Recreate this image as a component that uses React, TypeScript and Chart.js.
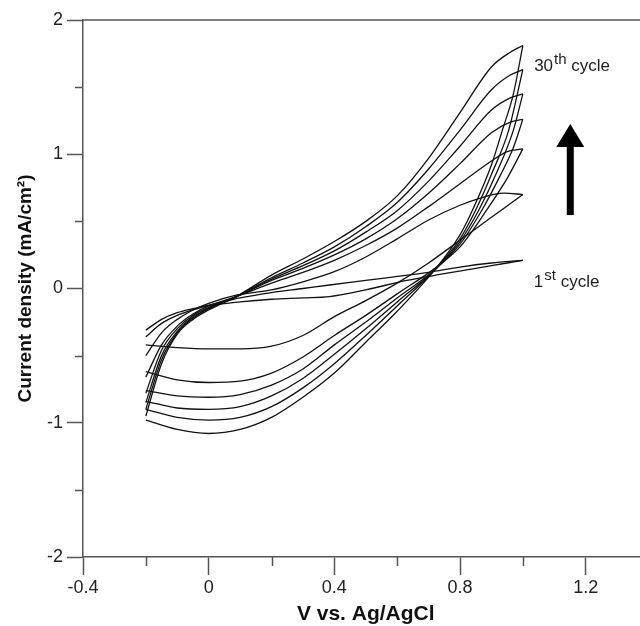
import React, { useEffect, useRef } from 'react';
import { Chart, registerables } from 'chart.js';

Chart.register(...registerables);

type P = [number, number];

// Axis setup
const X_MIN = -0.4;
const X_MAX = 1.4;
const X_STEP = 0.4;
const Y_MIN = -2;
const Y_MAX = 2;
const Y_STEP = 1;

const X_TITLE = 'V vs. Ag/AgCl';
const Y_TITLE = 'Current density (mA/cm²)';

// Cyclic voltammograms: forward (anodic) and reverse branches, [V, mA/cm²]
const loop1Fwd: P[] = [[-0.2, -0.36], [-0.15, -0.26], [-0.1, -0.2], [-0.05, -0.16], [0, -0.13], [0.1, -0.1], [0.2, -0.08], [0.3, -0.07], [0.385, -0.06], [0.5, -0.01], [0.63, 0.06], [0.75, 0.11], [0.9, 0.17], [1.0, 0.21]];
const loop1Rev: P[] = [[1.0, 0.21], [0.9, 0.19], [0.8, 0.16], [0.7, 0.12], [0.6, 0.09], [0.5, 0.06], [0.385, 0.026], [0.3, 0.0], [0.2, -0.03], [0.1, -0.07], [0.025, -0.11], [-0.05, -0.15], [-0.1, -0.18], [-0.15, -0.23], [-0.2, -0.31]];

const loop2Fwd: P[] = [[-0.2, -0.42], [-0.1, -0.44], [0, -0.45], [0.1, -0.45], [0.2, -0.43], [0.3, -0.35], [0.4, -0.21], [0.5, -0.09], [0.6, 0.04], [0.7, 0.19], [0.8, 0.36], [0.9, 0.53], [1.0, 0.7]];
const loop2Rev: P[] = [[1.0, 0.7], [0.94, 0.71], [0.86, 0.67], [0.8, 0.62], [0.7, 0.51], [0.6, 0.37], [0.5, 0.235], [0.4, 0.125], [0.3, 0.05], [0.2, -0.01], [0.088, -0.05], [0, -0.11], [-0.05, -0.16], [-0.1, -0.23], [-0.15, -0.33], [-0.2, -0.5]];

const loop3Fwd: P[] = [[-0.2, -0.62], [-0.1, -0.68], [0, -0.7], [0.1, -0.69], [0.2, -0.63], [0.3, -0.51], [0.4, -0.35], [0.5, -0.2], [0.6, -0.04], [0.72, 0.15], [0.8, 0.31], [0.885, 0.585], [0.95, 0.82], [1.0, 1.04]];
const loop3Rev: P[] = [[1.0, 1.04], [0.95, 1.02], [0.9, 0.95], [0.8, 0.78], [0.7, 0.61], [0.6, 0.45], [0.5, 0.32], [0.4, 0.21], [0.3, 0.12], [0.2, 0.04], [0.088, -0.06], [0, -0.13], [-0.05, -0.19], [-0.1, -0.28], [-0.15, -0.42], [-0.2, -0.66]];

const loop4Fwd: P[] = [[-0.2, -0.76], [-0.1, -0.8], [0, -0.81], [0.1, -0.79], [0.2, -0.72], [0.3, -0.6], [0.4, -0.42], [0.5, -0.25], [0.6, -0.07], [0.72, 0.14], [0.8, 0.33], [0.87, 0.585], [0.93, 0.85], [0.97, 1.05], [1.0, 1.26]];
const loop4Rev: P[] = [[1.0, 1.26], [0.96, 1.24], [0.9, 1.16], [0.8, 0.93], [0.7, 0.71], [0.6, 0.52], [0.5, 0.37], [0.4, 0.25], [0.3, 0.15], [0.2, 0.06], [0.088, -0.06], [0, -0.14], [-0.05, -0.2], [-0.1, -0.3], [-0.15, -0.46], [-0.2, -0.78]];

const loop5Fwd: P[] = [[-0.2, -0.84], [-0.1, -0.89], [0, -0.9], [0.1, -0.88], [0.2, -0.8], [0.3, -0.67], [0.4, -0.49], [0.5, -0.3], [0.6, -0.1], [0.72, 0.14], [0.8, 0.35], [0.86, 0.585], [0.92, 0.88], [0.97, 1.18], [1.0, 1.45]];
const loop5Rev: P[] = [[1.0, 1.45], [0.96, 1.42], [0.9, 1.33], [0.8, 1.06], [0.7, 0.8], [0.6, 0.58], [0.5, 0.42], [0.4, 0.28], [0.3, 0.17], [0.2, 0.07], [0.088, -0.06], [0, -0.15], [-0.05, -0.21], [-0.1, -0.32], [-0.15, -0.5], [-0.2, -0.85]];

const loop6Fwd: P[] = [[-0.2, -0.9], [-0.1, -0.96], [0, -0.98], [0.1, -0.96], [0.2, -0.88], [0.3, -0.74], [0.4, -0.56], [0.5, -0.35], [0.6, -0.13], [0.72, 0.14], [0.8, 0.37], [0.85, 0.585], [0.9, 0.85], [0.955, 1.18], [1.0, 1.63]];
const loop6Rev: P[] = [[1.0, 1.63], [0.96, 1.59], [0.9, 1.48], [0.8, 1.18], [0.7, 0.89], [0.6, 0.64], [0.5, 0.46], [0.4, 0.31], [0.3, 0.19], [0.2, 0.08], [0.088, -0.06], [0, -0.15], [-0.05, -0.22], [-0.1, -0.33], [-0.15, -0.53], [-0.2, -0.9]];

const loop7Fwd: P[] = [[-0.2, -0.98], [-0.1, -1.05], [0, -1.08], [0.1, -1.05], [0.2, -0.96], [0.3, -0.81], [0.4, -0.63], [0.5, -0.4], [0.6, -0.17], [0.72, 0.14], [0.8, 0.4], [0.84, 0.585], [0.9, 0.92], [0.935, 1.18], [0.97, 1.45], [1.0, 1.81]];
const loop7Rev: P[] = [[1.0, 1.81], [0.96, 1.76], [0.9, 1.65], [0.8, 1.31], [0.7, 0.97], [0.6, 0.69], [0.5, 0.5], [0.4, 0.35], [0.3, 0.22], [0.2, 0.1], [0.088, -0.06], [0, -0.16], [-0.05, -0.23], [-0.1, -0.34], [-0.15, -0.56], [-0.2, -0.95]];

const BRANCHES: P[][] = [
  loop1Fwd, loop1Rev, loop2Fwd, loop2Rev, loop3Fwd, loop3Rev, loop4Fwd, loop4Rev,
  loop5Fwd, loop5Rev, loop6Fwd, loop6Rev, loop7Fwd, loop7Rev,
];

// Annotations (data coordinates)
const LABEL_30 = { x: 1.036, y: 1.622, num: '30', sup: 'th', rest: ' cycle' };
const LABEL_1 = { x: 1.035, y: 0.013, num: '1', sup: 'st', rest: ' cycle' };
const ARROW = { x: 1.151, yFrom: 0.547, yHeadBase: 1.054, yTip: 1.225 };

const W = 660;
const H = 626;
const AXIS_COLOR = '#555';
const FONT = '"Liberation Sans", Arial, Helvetica, sans-serif';

const decorPlugin = {
  id: 'decor',
  afterDraw(chart: any) {
    const { ctx, chartArea: a } = chart;
    const xs = chart.scales.x;
    const ys = chart.scales.y;
    ctx.save();
    ctx.strokeStyle = AXIS_COLOR;
    ctx.lineWidth = 1.5;
    // top frame line
    ctx.beginPath();
    ctx.moveTo(a.left, a.top);
    ctx.lineTo(chart.width, a.top);
    ctx.stroke();
    // minor ticks
    ctx.beginPath();
    for (let v = X_MIN + X_STEP / 2; v < X_MAX; v += X_STEP) {
      const px = Math.round(xs.getPixelForValue(v)) + 0.5;
      ctx.moveTo(px, a.bottom);
      ctx.lineTo(px, a.bottom + 9);
    }
    for (let v = Y_MIN + Y_STEP / 2; v < Y_MAX; v += Y_STEP) {
      const py = Math.round(ys.getPixelForValue(v)) + 0.5;
      ctx.moveTo(a.left, py);
      ctx.lineTo(a.left - 8, py);
    }
    ctx.stroke();

    // arrow
    const ax = xs.getPixelForValue(ARROW.x);
    const yFrom = ys.getPixelForValue(ARROW.yFrom);
    const yBase = ys.getPixelForValue(ARROW.yHeadBase);
    const yTip = ys.getPixelForValue(ARROW.yTip);
    ctx.fillStyle = '#000';
    ctx.fillRect(ax - 3.5, yBase - 1, 7, yFrom - yBase + 1);
    ctx.beginPath();
    ctx.moveTo(ax, yTip);
    ctx.lineTo(ax + 14, yBase);
    ctx.lineTo(ax - 14, yBase);
    ctx.closePath();
    ctx.fill();

    // labels
    const drawLabel = (l: typeof LABEL_30) => {
      let x = xs.getPixelForValue(l.x);
      const y = ys.getPixelForValue(l.y);
      ctx.fillStyle = '#222';
      ctx.textBaseline = 'alphabetic';
      ctx.textAlign = 'left';
      ctx.font = `17px ${FONT}`;
      ctx.fillText(l.num, x, y);
      x += ctx.measureText(l.num).width + 1;
      ctx.font = `15px ${FONT}`;
      ctx.fillText(l.sup, x, y - 7);
      x += ctx.measureText(l.sup).width;
      ctx.font = `17px ${FONT}`;
      ctx.fillText(l.rest, x, y);
    };
    drawLabel(LABEL_30);
    drawLabel(LABEL_1);
    ctx.restore();
  },
};

export default function App() {
  const ref = useRef<HTMLCanvasElement>(null);

  useEffect(() => {
    document.body.style.overflow = 'hidden';
    const canvas = ref.current;
    if (!canvas) return;
    const datasets = BRANCHES.map((b) => ({
      data: b.slice().sort((p, q) => p[0] - q[0]).map(([x, y]) => ({ x, y })),
      showLine: true,
      borderColor: '#111',
      borderWidth: 1.3,
      pointRadius: 0,
      pointHoverRadius: 0,
      fill: false,
      cubicInterpolationMode: 'monotone' as const,
    }));
    const chart = new Chart(canvas, {
      type: 'scatter',
      data: { datasets },
      options: {
        animation: false,
        responsive: false,
        devicePixelRatio: 1,
        layout: { padding: { top: 20, right: 11.5, left: 0, bottom: 0 } },
        plugins: { legend: { display: false }, tooltip: { enabled: false } },
        scales: {
          x: {
            type: 'linear',
            min: X_MIN,
            max: X_MAX,
            afterFit: (s: any) => { s.height = 69; },
            ticks: {
              stepSize: X_STEP,
              includeBounds: false,
              color: '#222',
              font: { family: FONT, size: 18 },
              padding: 2,
              maxRotation: 0,
              autoSkip: false,
              callback: (v: any) => {
                const n = Number(v);
                if (n > 1.3) return '';
                return String(Math.round(n * 10) / 10);
              },
            },
            grid: { drawOnChartArea: false, drawTicks: true, tickLength: 18, tickColor: AXIS_COLOR, tickWidth: 1.5 },
            border: { display: true, color: AXIS_COLOR, width: 1.5 },
            title: { display: true, text: X_TITLE, color: '#111', font: { family: FONT, size: 21, weight: 'bold', lineHeight: 1.1 }, padding: { top: 0, bottom: 0 } },
          },
          y: {
            type: 'linear',
            min: Y_MIN,
            max: Y_MAX,
            afterFit: (s: any) => { s.width = 83; },
            ticks: {
              stepSize: Y_STEP,
              includeBounds: false,
              color: '#222',
              font: { family: FONT, size: 18 },
              padding: 4,
              callback: (v: any) => String(Math.round(Number(v))),
            },
            grid: { drawOnChartArea: false, drawTicks: true, tickLength: 16, tickColor: AXIS_COLOR, tickWidth: 1.5 },
            border: { display: true, color: AXIS_COLOR, width: 1.5 },
            title: { display: true, text: Y_TITLE, color: '#111', font: { family: FONT, size: 19, weight: 'bold', lineHeight: 1.2 }, padding: { top: 14, bottom: 0 } },
          },
        },
      },
      plugins: [decorPlugin],
    });
    return () => chart.destroy();
  }, []);

  return (
    <div style={{ position: 'fixed', left: 0, top: 0, width: W, height: H, background: '#fff' }}>
      <canvas ref={ref} width={W} height={H} style={{ width: W, height: H, display: 'block' }} />
    </div>
  );
}
